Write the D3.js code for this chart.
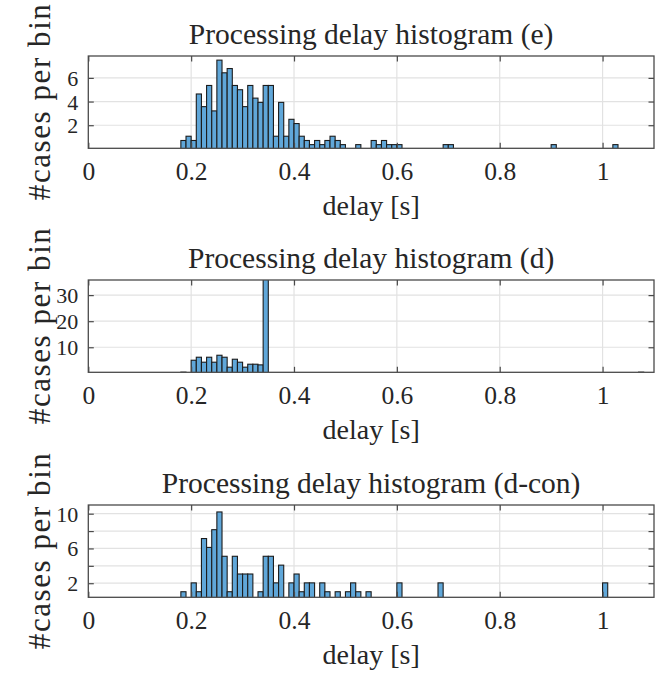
<!DOCTYPE html>
<html>
<head>
<meta charset="utf-8">
<script src="https://cdn.jsdelivr.net/npm/d3@7/dist/d3.min.js"></script>
<style>
  body { margin: 0; background: #fff; }
  svg text { font-family: "Liberation Serif", "Times New Roman", serif; fill: #262626; }
</style>
</head>
<body>
<svg id="chart" width="669" height="675"></svg>
<script>
// Shared x axis: delay in seconds, 10 ms bins
const binWidth = 0.01;
const xDomain = [0, 1.1];
const xTickValues = [0, 0.2, 0.4, 0.6, 0.8, 1];
const xTickLabels = ["0", "0.2", "0.4", "0.6", "0.8", "1"];
const xAxisLabel = "delay [s]";
const yAxisLabel = "#cases per bin";

// Panel (e): left bin edges of non-empty bins and their heights
const titleE = "Processing delay histogram (e)";
const binsE = [0.18, 0.19, 0.20, 0.21, 0.22, 0.23, 0.24, 0.25, 0.26, 0.27,
               0.28, 0.29, 0.30, 0.31, 0.32, 0.33, 0.34, 0.35, 0.36, 0.37,
               0.38, 0.39, 0.40, 0.41, 0.42, 0.43, 0.44, 0.45, 0.46, 0.47,
               0.48, 0.49, 0.52, 0.55, 0.56, 0.57, 0.58, 0.59, 0.60, 0.69,
               0.70, 0.90, 1.02];
const heightsE = [0.71, 1.07, 0.71, 4.64, 3.57, 5.36, 3.21, 7.50, 6.43, 6.79,
                  5.36, 5.00, 3.57, 5.36, 4.29, 3.93, 5.36, 5.36, 1.07, 3.93,
                  1.07, 2.50, 2.14, 1.07, 0.71, 0.36, 0.71, 0.36, 0.71, 1.07,
                  0.71, 0.36, 0.36, 0.71, 0.36, 0.71, 0.36, 0.36, 0.36, 0.36,
                  0.36, 0.36, 0.36];
const yDomainE = [0.05, 7.85];
const yTicksE = [2, 4, 6];
const yTickLabelsE = ["2", "4", "6"];

// Panel (d)
const titleD = "Processing delay histogram (d)";
const binsD = [0.18, 0.20, 0.21, 0.22, 0.23, 0.24, 0.25, 0.26, 0.27, 0.28,
               0.29, 0.30, 0.31, 0.32, 0.33, 0.34, 1.07];
const heightsD = [0.45, 5.03, 6.18, 4.27, 6.18, 4.27, 6.94, 6.18, 2.36, 5.41,
                  4.27, 2.36, 3.50, 3.50, 3.25, 40.0, 0.45];
const yDomainD = [0.4, 35.8];
const yTicksD = [10, 20, 30];
const yTickLabelsD = ["10", "20", "30"];

// Panel (d-con)
const titleDC = "Processing delay histogram (d-con)";
const binsDC = [0.18, 0.20, 0.21, 0.22, 0.23, 0.24, 0.25, 0.26, 0.27, 0.28,
                0.29, 0.30, 0.31, 0.33, 0.34, 0.35, 0.36, 0.37, 0.39, 0.40,
                0.41, 0.42, 0.43, 0.45, 0.46, 0.48, 0.50, 0.51, 0.52, 0.54,
                0.60, 0.68, 1.00];
const heightsDC = [1.02, 2.04, 1.02, 7.14, 6.12, 8.16, 10.2, 5.10, 1.02, 5.10,
                   3.06, 3.06, 3.06, 1.02, 5.10, 5.10, 2.04, 4.08, 2.04, 3.06,
                   1.02, 2.04, 2.04, 2.04, 1.02, 1.02, 1.02, 2.04, 1.02, 1.02,
                   2.04, 2.04, 2.04];
const yDomainDC = [0.38, 11.0];
const yTicksDC = [2, 4, 6, 8, 10];
const yTickLabelsDC = ["2", "", "6", "", "10"];

const panels = [
  { title: titleE, bins: binsE, heights: heightsE, yDomain: yDomainE, yTicks: yTicksE, yLabels: yTickLabelsE, top: 56 },
  { title: titleD, bins: binsD, heights: heightsD, yDomain: yDomainD, yTicks: yTicksD, yLabels: yTickLabelsD, top: 280 },
  { title: titleDC, bins: binsDC, heights: heightsDC, yDomain: yDomainDC, yTicks: yTicksDC, yLabels: yTickLabelsDC, top: 505 }
];

const svg = d3.select("#chart");
svg.append("rect").attr("width", 669).attr("height", 675).attr("fill", "#fff");

const left = 88.3, right = 654, plotH = 92.3;
const plotW = right - left;
const tickLen = 5.5;
const axisColor = "#4a4a4a";
const gridColor = "#e2e2e2";
const barFill = "#60a7d9";
const barStroke = "#1c1c1c";

const x = d3.scaleLinear().domain(xDomain).range([0, plotW]);

panels.forEach((p, idx) => {
  const y = d3.scaleLinear().domain(p.yDomain).range([plotH, 0]);
  const g = svg.append("g").attr("transform", `translate(${left},${p.top})`);

  const clipId = "clip" + idx;
  g.append("clipPath").attr("id", clipId)
    .append("rect").attr("x", 0).attr("y", 0).attr("width", plotW).attr("height", plotH);

  // grid
  const grid = g.append("g");
  grid.selectAll("line.vx").data(xTickValues.filter(v => v > 0)).join("line")
    .attr("x1", d => x(d)).attr("x2", d => x(d)).attr("y1", 0).attr("y2", plotH)
    .attr("stroke", gridColor).attr("stroke-width", 1.2);
  grid.selectAll("line.hy").data(p.yTicks).join("line")
    .attr("x1", 0).attr("x2", plotW).attr("y1", d => y(d)).attr("y2", d => y(d))
    .attr("stroke", gridColor).attr("stroke-width", 1.2);

  // bars
  const rows = p.bins.map((b, i) => ({ b, h: p.heights[i] }));
  g.append("g").attr("clip-path", `url(#${clipId})`)
    .selectAll("rect").data(rows).join("rect")
    .attr("x", d => x(d.b))
    .attr("width", d => x(d.b + binWidth) - x(d.b))
    .attr("y", d => y(d.h))
    .attr("height", d => y(0) - y(d.h))
    .attr("fill", barFill)
    .attr("stroke", barStroke)
    .attr("stroke-width", 1.1);

  // axes with inward ticks
  const xb = g.append("g").attr("transform", `translate(0,${plotH})`)
    .call(d3.axisBottom(x).tickValues(xTickValues)
      .tickFormat((d, i) => xTickLabels[i]).tickSizeInner(-tickLen).tickSizeOuter(0));
  xb.select(".domain").remove();
  xb.selectAll("line").attr("stroke", axisColor).attr("stroke-width", 1.2);
  xb.selectAll("text").attr("y", 31.5).attr("dy", 0)
    .attr("font-size", 25.5).attr("font-family", null).attr("fill", "#262626");

  const xt = g.append("g")
    .call(d3.axisTop(x).tickValues(xTickValues).tickFormat("").tickSizeInner(-tickLen).tickSizeOuter(0));
  xt.select(".domain").remove();
  xt.selectAll("line").attr("stroke", axisColor).attr("stroke-width", 1.2);

  const yl = g.append("g")
    .call(d3.axisLeft(y).tickValues(p.yTicks)
      .tickFormat((d, i) => p.yLabels[i]).tickSizeInner(-tickLen).tickSizeOuter(0).tickPadding(10));
  yl.select(".domain").remove();
  yl.selectAll("line").attr("stroke", axisColor).attr("stroke-width", 1.2);
  yl.selectAll("text").attr("x", -10).attr("dy", "0.34em")
    .attr("font-size", 22).attr("font-family", null).attr("fill", "#262626");

  const yr = g.append("g").attr("transform", `translate(${plotW},0)`)
    .call(d3.axisRight(y).tickValues(p.yTicks).tickFormat("").tickSizeInner(-tickLen).tickSizeOuter(0));
  yr.select(".domain").remove();
  yr.selectAll("line").attr("stroke", axisColor).attr("stroke-width", 1.2);

  // box
  g.append("rect").attr("x", 0).attr("y", 0).attr("width", plotW).attr("height", plotH)
    .attr("fill", "none").attr("stroke", axisColor).attr("stroke-width", 1.3);

  // title
  g.append("text").attr("x", plotW / 2).attr("y", -12)
    .attr("text-anchor", "middle").attr("font-size", 29.5).text(p.title);

  // x label
  g.append("text").attr("x", plotW / 2).attr("y", plotH + 67)
    .attr("text-anchor", "middle").attr("font-size", 28).text(xAxisLabel);

  // y label
  g.append("text")
    .attr("transform", `translate(${50 - left},${plotH / 2}) rotate(-90)`)
    .attr("text-anchor", "middle").attr("font-size", 31)
    .attr("textLength", 196).attr("lengthAdjust", "spacing")
    .text(yAxisLabel);
});
</script>
</body>
</html>
